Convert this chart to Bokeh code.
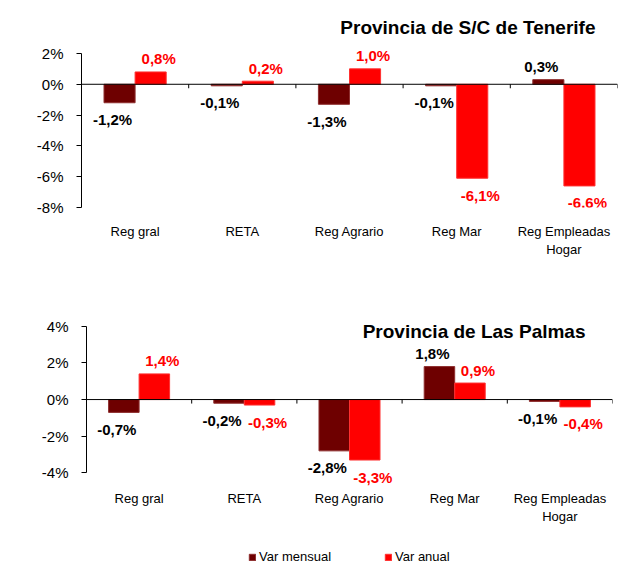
from bokeh.plotting import figure
from bokeh.models import (ColumnDataSource, FactorRange, FixedTicker, LabelSet, Label,
                          Legend, LegendItem, Range1d)
from bokeh.core.properties import value
from bokeh.transform import dodge
from bokeh.layouts import column
from bokeh.embed import file_html
from bokeh.resources import INLINE

# ---------------- data ----------------
categories = ["Reg gral", "RETA", "Reg Agrario", "Reg Mar", "Reg Empleadas\nHogar"]

tenerife_mensual = [-1.2, -0.1, -1.3, -0.1, 0.3]
tenerife_anual = [0.8, 0.2, 1.0, -6.1, -6.6]

palmas_mensual = [-0.7, -0.2, -2.8, 1.8, -0.1]
palmas_anual = [1.4, -0.3, -3.3, 0.9, -0.4]

tenerife_ticks = [-8, -6, -4, -2, 0, 2]
palmas_ticks = [-4, -2, 0, 2, 4]

series_names = ["Var mensual", "Var anual"]
title_tenerife = "Provincia de S/C de Tenerife"
title_palmas = "Provincia de Las Palmas"

# ---------------- style ----------------
FONT = "Liberation Sans"
DARK = "#6E0000"
RED = "#FF0000"
BAR_W = 0.29
W = 640


def fmt(v):
    return ("%.1f%%" % v).replace(".", ",")


def make_chart(mensual, anual, title, yticks, y_view, height, b_left, b_right, b_top, b_bottom,
               title_xy, x_standoff):
    p = figure(x_range=FactorRange(*categories, range_padding=0, factor_padding=0),
               y_range=Range1d(*y_view),
               width=W, height=height, output_backend="svg",
               toolbar_location=None, min_border_left=b_left, min_border_right=b_right,
               min_border_top=b_top, min_border_bottom=b_bottom)
    p.outline_line_color = None
    p.grid.visible = False
    p.background_fill_color = "white"
    p.border_fill_color = "white"

    src = ColumnDataSource(dict(
        cat=categories, m=mensual, a=anual,
        m_txt=[fmt(v) for v in mensual], a_txt=[fmt(v) for v in anual],
        m_off=[13 if v >= 0 else -17 for v in mensual],
        a_off=[13 if v >= 0 else -17 for v in anual],
    ))

    p.vbar(x=dodge("cat", -BAR_W / 2, range=p.x_range), top="m", bottom=0, width=BAR_W,
           source=src, fill_color=DARK, line_color="#8E2E2E", line_width=1)
    p.vbar(x=dodge("cat", BAR_W / 2, range=p.x_range), top="a", bottom=0, width=BAR_W,
           source=src, fill_color=RED, line_color="#FF3030", line_width=1)

    # zero line with tick marks at category boundaries
    n = len(categories)
    p.segment(x0=[0], x1=[n], y0=[0], y1=[0], line_color="black", line_width=1)
    frame_h = height - b_top - b_bottom
    tick_len = (y_view[1] - y_view[0]) * 4.0 / frame_h
    p.segment(x0=list(range(n + 1)), x1=list(range(n + 1)), y0=[0] * (n + 1),
              y1=[-tick_len] * (n + 1), line_color="black", line_width=1)

    # value labels
    common = dict(source=src, text_align="center", text_baseline="middle",
                  text_font=value(FONT), text_font_size="15px", text_font_style="bold")
    p.add_layout(LabelSet(x=dodge("cat", -BAR_W / 2, range=p.x_range), y="m", text="m_txt",
                          y_offset="m_off", x_offset=-7, text_color="black", **common))
    p.add_layout(LabelSet(x=dodge("cat", BAR_W / 2, range=p.x_range), y="a", text="a_txt",
                          y_offset="a_off", x_offset=8, text_color=RED, **common))

    # axes
    p.yaxis.bounds = (yticks[0], yticks[-1])
    p.yaxis.ticker = FixedTicker(ticks=yticks)
    p.yaxis.major_label_overrides = {t: "%d%%" % t for t in yticks}
    p.yaxis.axis_line_color = "black"
    p.yaxis.major_tick_line_color = "black"
    p.yaxis.major_tick_out = 5
    p.yaxis.major_tick_in = 0
    p.yaxis.minor_tick_line_color = None
    p.yaxis.major_label_standoff = 13
    p.yaxis.major_label_text_font = FONT
    p.yaxis.major_label_text_font_size = "15px"
    p.yaxis.major_label_text_color = "black"

    p.xaxis.axis_line_color = None
    p.xaxis.major_tick_line_color = None
    p.xaxis.minor_tick_line_color = None
    p.xaxis.major_tick_out = 0
    p.xaxis.major_tick_in = 0
    p.xaxis.major_label_standoff = x_standoff
    p.xaxis.major_label_text_font = FONT
    p.xaxis.major_label_text_font_size = "13px"
    p.xaxis.major_label_text_color = "black"

    p.add_layout(Label(x=title_xy[0], y=title_xy[1], x_units="screen", y_units="screen",
                       text=title, text_font=FONT, text_font_size="19px", text_font_style="bold",
                       text_align="right", text_baseline="middle", text_color="black"))
    return p


top = make_chart(tenerife_mensual, tenerife_anual, title_tenerife, tenerife_ticks,
                 (-8, 4.53), 290, 81, 23, 14, 83, (514, 180), 16)
bottom = make_chart(palmas_mensual, palmas_anual, title_palmas, palmas_ticks,
                    (-4.69, 4.75), 257, 86, 28, 22, 62, (499, 154), 5)

# legend strip
leg_fig = figure(x_range=Range1d(0, 1), y_range=Range1d(0, 1), width=W, height=40,
                 output_backend="svg", toolbar_location=None,
                 min_border_left=0, min_border_right=0,
                 min_border_top=0, min_border_bottom=0)
leg_fig.axis.visible = False
leg_fig.grid.visible = False
leg_fig.outline_line_color = None
lr_m = leg_fig.vbar(x=[5], top=[5], bottom=[4], width=0.1, fill_color=DARK, line_color="#8E2E2E")
lr_a = leg_fig.vbar(x=[5], top=[5], bottom=[4], width=0.1, fill_color=RED, line_color="#FF3030")
leg = Legend(items=[LegendItem(label=series_names[0], renderers=[lr_m]),
                    LegendItem(label=series_names[1], renderers=[lr_a])],
             orientation="horizontal", location=(248, 23),
             glyph_width=8, glyph_height=8, label_standoff=3, spacing=53,
             label_height=14, label_width=10, padding=0, margin=0,
             border_line_color=None, background_fill_alpha=0,
             label_text_font=FONT, label_text_font_size="13px",
             label_text_color="black")
leg_fig.add_layout(leg, "center")

layout = column(column(top), column(bottom), column(leg_fig), spacing=0)
open("out.html", "w").write(file_html(layout, INLINE))
